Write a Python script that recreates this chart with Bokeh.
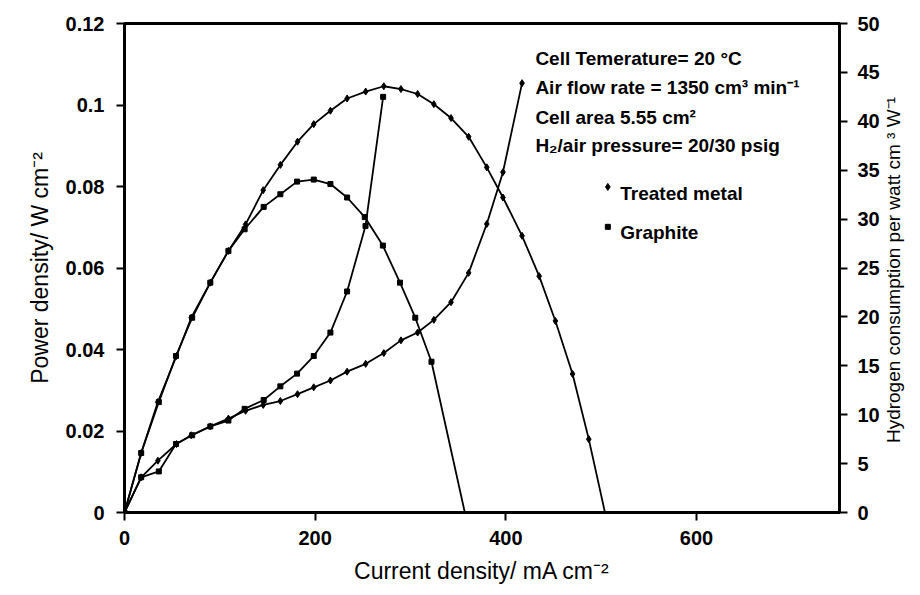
import math
from bokeh.plotting import figure
from bokeh.layouts import row
from bokeh.models import Range1d, LinearAxis, FixedTicker, Label
from bokeh.core.properties import value
from bokeh.embed import file_html
from bokeh.resources import INLINE

# ---------------- data ----------------
metal_i = [0, 17.5, 35, 54.5, 70, 90, 109, 127, 145.5, 163.5, 181.5, 198.5, 216,
           233.5, 253, 272, 290, 307.5, 324.5, 342.5, 361, 380, 397, 417, 435,
           452, 470, 487]
metal_power = [0, 0.0146, 0.0271, 0.0384, 0.0478, 0.0564, 0.0642, 0.0707, 0.0791,
               0.0853, 0.0910, 0.0953, 0.0986, 0.1016, 0.1033, 0.1046, 0.1039,
               0.1027, 0.1002, 0.0968, 0.0922, 0.0847, 0.0773, 0.0679, 0.058,
               0.047, 0.034, 0.018]
metal_power_end_i = 504
metal_power_end = 0.0

metal_h2_i = [17.5, 35, 54.5, 70, 90, 109, 127, 145.5, 163.5, 181.5, 198.5, 216,
              233.5, 253, 272, 290, 307.5, 324.5, 342.5, 361, 380, 397, 417]
metal_h2 = [3.6, 5.3, 7.0, 7.9, 8.8, 9.6, 10.4, 11.0, 11.4, 12.1, 12.8, 13.5,
            14.4, 15.2, 16.3, 17.6, 18.4, 19.7, 21.5, 24.5, 29.5, 34.8, 43.9]

graphite_i = [0, 17.5, 36, 54, 71, 90, 109, 126, 146, 163.5, 181, 198.5, 216,
              233.5, 252, 271, 289, 305, 322]
graphite_power = [0, 0.0146, 0.0271, 0.0384, 0.0478, 0.0564, 0.0642, 0.0695,
                  0.0750, 0.0781, 0.0812, 0.0817, 0.0806, 0.0773, 0.0725, 0.0655,
                  0.0564, 0.0478, 0.037]
graphite_power_end_i = 357
graphite_power_end = 0.0

graphite_h2_i = [17.5, 36, 54, 71, 90, 109, 126, 146, 163.5, 181, 198.5, 216,
                 233.5, 252.8, 271.3]
graphite_h2 = [3.6, 4.2, 7.0, 7.9, 8.8, 9.4, 10.6, 11.5, 12.9, 14.2, 16.0, 18.4,
               22.6, 29.3, 42.5]

x_ticks = [0, 200, 400, 600]
y_left_ticks = [0, 0.02, 0.04, 0.06, 0.08, 0.1, 0.12]
y_left_labels = ["0", "0.02", "0.04", "0.06", "0.08", "0.1", "0.12"]
y_right_ticks = [0, 5, 10, 15, 20, 25, 30, 35, 40, 45, 50]

info_lines = ["Cell Temerature= 20 \u00b0C",
              "Air flow rate = 1350 cm\u00b3 min\u207b\u00b9",
              "Cell area 5.55 cm\u00b2",
              "H\u2082/air pressure= 20/30 psig"]
legend_names = ["Treated metal", "Graphite"]
right_title = "Hydrogen consumption per watt cm \u00b3 W\u207b\u00b9"

# ---------------- main figure ----------------
FONT = "Liberation Sans"
p = figure(width=882, height=595, output_backend="svg", toolbar_location=None,
           x_range=Range1d(0, 750), y_range=Range1d(0, 0.12),
           min_border_left=124, min_border_right=42, min_border_top=23,
           min_border_bottom=83)
p.extra_y_ranges = {"h2": Range1d(0, 50)}
p.grid.visible = False
p.outline_line_color = "black"
p.outline_line_width = 3
p.background_fill_color = "white"
p.border_fill_color = "white"

# lines
p.line(metal_i + [metal_power_end_i], metal_power + [metal_power_end],
       line_color="black", line_width=1.8)
p.line(graphite_i + [graphite_power_end_i], graphite_power + [graphite_power_end],
       line_color="black", line_width=1.8)
p.line([0] + metal_h2_i, [0] + metal_h2, line_color="black", line_width=1.8,
       y_range_name="h2")
p.line([0] + graphite_h2_i, [0] + graphite_h2, line_color="black", line_width=1.8,
       y_range_name="h2")

# markers
p.scatter(metal_i, metal_power, marker="diamond", size=7, color="black")
p.scatter(graphite_i, graphite_power, marker="square", size=5, color="black")
p.scatter(metal_h2_i, metal_h2, marker="diamond", size=7, color="black",
          y_range_name="h2")
p.scatter(graphite_h2_i, graphite_h2, marker="square", size=5, color="black",
          y_range_name="h2")

# axes styling
def style_axis(ax, fs="20px"):
    ax.axis_line_width = 3
    ax.axis_line_color = "black"
    ax.major_tick_line_width = 2
    ax.major_tick_out = 8
    ax.major_tick_in = 0
    ax.minor_tick_line_color = None
    ax.major_label_standoff = 10
    ax.major_label_text_font = FONT
    ax.major_label_text_font_style = "bold"
    ax.major_label_text_font_size = fs
    ax.major_label_text_color = "black"
    ax.axis_label_text_font = FONT
    ax.axis_label_text_font_style = "normal"
    ax.axis_label_text_color = "black"

xa = p.xaxis[0]
xa.ticker = FixedTicker(ticks=x_ticks)
style_axis(xa)
xa.axis_label = "Current density/ mA cm\u207b\u00b2"
xa.axis_label_text_font_size = "23px"
xa.axis_label_standoff = 10

ya = p.yaxis[0]
ya.ticker = FixedTicker(ticks=y_left_ticks)
ya.major_label_overrides = {t: l for t, l in zip(y_left_ticks, y_left_labels)}
style_axis(ya)
ya.major_label_standoff = 12
ya.axis_label = "Power density/ W cm\u207b\u00b2"
ya.axis_label_text_font_size = "23px"
ya.axis_label_standoff = 10

ra = LinearAxis(y_range_name="h2", ticker=FixedTicker(ticks=y_right_ticks))
style_axis(ra)
p.add_layout(ra, "right")

# annotation text
info_y = [0.1114, 0.1043, 0.0969, 0.0900]
for txt, yy in zip(info_lines, info_y):
    p.add_layout(Label(x=431, y=yy, text=txt, text_font=FONT,
                       text_font_style="bold", text_font_size="19px",
                       text_color="black", text_baseline="alphabetic"))

leg_y = [0.0784, 0.0686]
p.scatter([507], [0.0799], marker="diamond", size=7, color="black")
p.scatter([507], [0.0701], marker="square", size=5, color="black")
for txt, yy in zip(legend_names, leg_y):
    p.add_layout(Label(x=520, y=yy, text=txt, text_font=FONT,
                       text_font_style="bold", text_font_size="19px",
                       text_color="black", text_baseline="alphabetic"))

# ---------------- narrow strip holding the right-hand title ----------------
t = figure(width=38, height=595, output_backend="svg", toolbar_location=None,
           x_range=Range1d(0, 38), y_range=Range1d(0, 595),
           x_axis_type=None, y_axis_type=None, min_border=0)
t.grid.visible = False
t.outline_line_color = None
t.background_fill_color = "white"
t.border_fill_color = "white"
t.text(x=[11], y=[295], text=[right_title], angle=math.pi / 2,
       text_font=value(FONT), text_font_size="19px", text_color="black",
       text_align="center", text_baseline="middle")

layout = row(p, t, spacing=0)
open("out.html", "w").write(file_html(layout, INLINE))
